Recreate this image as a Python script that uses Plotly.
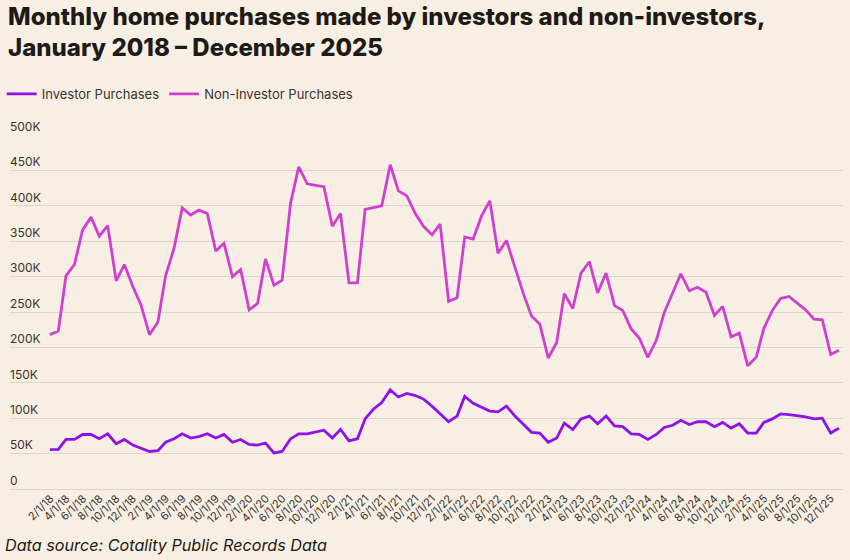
import plotly.graph_objects as go
import pandas as pd

months = pd.date_range("2018-01-01", "2025-12-01", freq="MS")
dates = [d.strftime("%Y-%m-%d") for d in months]

investor = [
    55.5, 56, 70, 70, 77, 77, 71, 78, 64, 70, 62, 58,
    53, 54, 66, 71, 78, 72, 74, 78, 72, 77, 66, 70,
    63, 62, 65, 51, 53, 71, 78, 78, 80, 83, 72, 84,
    68, 71, 99, 113, 122, 140, 130, 135, 132, 127, 117, 106,
    95, 103, 131, 121, 116, 110, 109, 117, 103, 91, 80, 79,
    66, 72, 93, 84, 99, 103, 92, 103, 89, 88, 78, 77,
    70, 77, 87, 90, 97, 91, 95, 95, 88, 94, 86, 92,
    79, 79, 94, 99, 106, 105, 104, 102, 99, 100, 79, 86,
]
non_investor = [
    218, 223, 301, 317, 366, 384, 357, 372, 294, 317, 286, 260,
    218, 236, 301, 340, 397, 387, 394, 389, 336, 347, 300, 310,
    253, 262, 325, 288, 295, 404, 455, 431, 429, 427, 371, 389,
    291, 291, 395, 398, 400, 458, 421, 414, 389, 371, 359, 374,
    265, 270, 356, 353, 385, 407, 333, 351, 314, 277, 244, 233,
    185, 207, 276, 255, 305, 321, 277, 305, 259, 252, 226, 213,
    186, 210, 249, 277, 304, 280, 285, 278, 245, 258, 215, 220,
    174, 186, 227, 252, 269, 272, 263, 253, 240, 239, 190, 196,
]
investor = [v * 1000 for v in investor]
non_investor = [v * 1000 for v in non_investor]

tick_dates = dates[1::2]
tick_labels = [f"{d.month}/1/{d.strftime('%y')}" for d in months[1::2]]
y_ticks = [0, 50000, 100000, 150000, 200000, 250000, 300000, 350000, 400000, 450000, 500000]
y_labels = ["0", "50K", "100K", "150K", "200K", "250K", "300K", "350K", "400K", "450K", "500K"]

title = "Monthly home purchases made by investors and non-investors,<br>January 2018 – December 2025"
footnote = "Data source: Cotality Public Records Data"

BG = "#F7EFE3"
C_INV = "#9012E6"
C_NON = "#D040D0"
FONT = "Inter, Roboto, sans-serif"

fig = go.Figure()
fig.add_trace(go.Scatter(x=dates, y=investor, mode="lines", name="Investor Purchases",
                         line=dict(color=C_INV, width=2.8)))
fig.add_trace(go.Scatter(x=dates, y=non_investor, mode="lines", name="Non-Investor Purchases",
                         line=dict(color=C_NON, width=2.8)))

# plot area: pixel y 135 (500K) .. 489 (0); height 354; x 10..843
fig.update_layout(
    width=850, height=560,
    paper_bgcolor=BG, plot_bgcolor=BG,
    margin=dict(l=10, r=7, t=135, b=71, autoexpand=False),
    font=dict(family=FONT, color="#3a332c", size=12),
    legend=dict(orientation="h", x=-0.01, xanchor="left", y=1.116, yanchor="middle",
                font=dict(size=13, color="#3a332c"), bgcolor="rgba(0,0,0,0)",
                traceorder="normal"),
    showlegend=True,
    annotations=[
        dict(text=title, xref="paper", yref="paper", x=-0.005, y=1.382,
             xanchor="left", yanchor="top", align="left", showarrow=False,
             font=dict(family=FONT, size=24, color="#1e1a16", weight=800)),
        dict(text=footnote, xref="paper", yref="paper", x=-0.008, y=-0.158,
             xanchor="left", yanchor="middle", showarrow=False,
             font=dict(family=FONT, size=16.2, color="#1e1a16", style="italic")),
    ],
)
fig.update_xaxes(
    type="date",
    range=["2017-08-08", "2025-12-16"],
    tickvals=tick_dates, ticktext=tick_labels, tickangle=-45,
    tickfont=dict(size=11, color="#3a332c"),
    ticklabelshift=-8, ticklabelstandoff=0,
    showgrid=False, showline=False, ticks="", zeroline=False,
)
fig.update_yaxes(
    range=[0, 500000],
    tickvals=y_ticks, ticktext=y_labels,
    ticklabelposition="inside top", ticklabeloverflow="allow",
    ticklabelstandoff=-3,
    tickfont=dict(size=12, color="#3a332c"),
    showgrid=True, gridcolor="#DDD5CA", gridwidth=1,
    zeroline=True, zerolinecolor="#DDD5CA", zerolinewidth=1,
    showline=False, ticks="",
)

fig.write_html("out.html", config={"displayModeBar": False},
               post_script="document.body.style.margin='0';document.body.style.padding='0';")
